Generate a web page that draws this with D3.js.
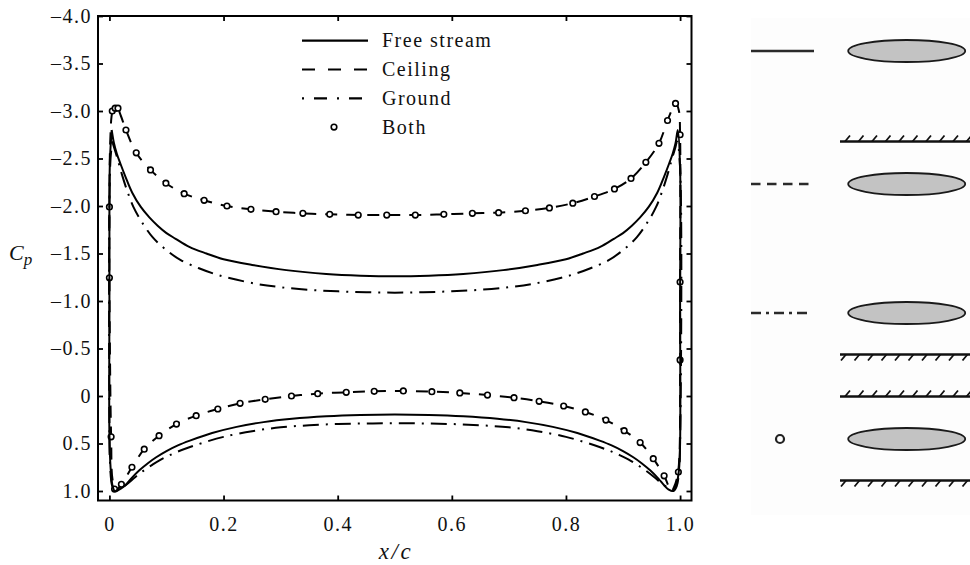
<!DOCTYPE html>
<html>
<head>
<meta charset="utf-8">
<script src="https://cdn.jsdelivr.net/npm/d3@7"></script>
<style>
  body { margin: 0; background: #fff; }
  svg { display: block; font-family: "Liberation Serif", "Times New Roman", serif; }
</style>
</head>
<body>
<svg id="chart" width="970" height="565"></svg>
<script>
// Pressure coefficient around the ellipse: each series runs upper surface (LE -> TE),
// down the trailing edge, lower surface back (TE -> LE) and up the leading edge.
const xTicks = [0, 0.2, 0.4, 0.6, 0.8, 1.0];
const yTicks = [-4.0, -3.5, -3.0, -2.5, -2.0, -1.5, -1.0, -0.5, 0, 0.5, 1.0];
const seriesNames = ["Free stream", "Ceiling", "Ground", "Both"];

const freeStream = [
  [0.004,-2.80],[0.008,-2.66],[0.013,-2.55],[0.019,-2.45],[0.028,-2.31],[0.040,-2.14],
  [0.055,-1.99],[0.070,-1.88],[0.085,-1.79],[0.100,-1.715],[0.116,-1.655],[0.140,-1.57],
  [0.170,-1.50],[0.200,-1.44],[0.250,-1.38],[0.310,-1.325],[0.380,-1.285],[0.440,-1.267],
  [0.500,-1.26],[0.560,-1.267],[0.620,-1.285],[0.690,-1.325],[0.750,-1.38],[0.800,-1.44],
  [0.830,-1.50],[0.860,-1.57],[0.884,-1.655],[0.900,-1.715],[0.915,-1.79],[0.930,-1.88],
  [0.945,-1.99],[0.960,-2.14],[0.972,-2.31],[0.981,-2.45],[0.987,-2.55],[0.992,-2.66],[0.996,-2.80],
  [1.000,-2.40],[1.000,-1.00],[1.000,0.50],[0.998,0.78],[0.994,0.92],[0.988,1.00],
  [0.980,0.985],[0.972,0.94],[0.962,0.87],[0.948,0.785],[0.932,0.705],[0.918,0.645],
  [0.900,0.58],[0.880,0.52],[0.859,0.47],[0.820,0.39],[0.777,0.325],[0.730,0.275],
  [0.680,0.24],[0.620,0.214],[0.560,0.20],[0.500,0.195],[0.440,0.20],[0.380,0.214],
  [0.320,0.24],[0.270,0.275],[0.223,0.325],[0.180,0.39],[0.141,0.47],[0.120,0.52],
  [0.100,0.58],[0.082,0.645],[0.068,0.705],[0.052,0.785],[0.038,0.87],[0.028,0.94],
  [0.020,0.975],[0.013,0.995],[0.009,1.00],
  [0.005,0.93],[0.002,0.75],[0.000,0.40],[0.000,-1.00],[0.000,-2.00],[0.001,-2.50],[0.004,-2.80]
];

const ceiling = [
  [0.003,-2.90],[0.008,-3.04],[0.014,-3.03],[0.020,-2.95],[0.029,-2.80],[0.047,-2.56],
  [0.072,-2.38],[0.099,-2.24],[0.131,-2.13],[0.166,-2.06],[0.206,-2.00],[0.248,-1.965],
  [0.292,-1.94],[0.339,-1.923],[0.386,-1.912],[0.436,-1.905],[0.486,-1.905],[0.536,-1.905],
  [0.586,-1.912],[0.636,-1.923],[0.682,-1.93],[0.729,-1.95],[0.771,-1.98],[0.812,-2.03],
  [0.850,-2.10],[0.885,-2.18],[0.914,-2.29],[0.940,-2.46],[0.963,-2.66],[0.978,-2.90],
  [0.988,-3.04],[0.993,-3.08],[0.998,-3.00],
  [1.000,-2.75],[1.000,-1.20],[1.000,-0.38],[0.999,0.60],[0.996,0.82],[0.990,0.95],[0.985,1.00],
  [0.972,0.84],[0.953,0.66],[0.930,0.49],[0.902,0.365],[0.870,0.253],[0.834,0.168],
  [0.796,0.105],[0.753,0.056],[0.709,0.018],[0.6625,-0.01],[0.614,-0.032],[0.565,-0.046],
  [0.515,-0.053],[0.464,-0.049],[0.415,-0.039],[0.365,-0.025],[0.319,0.000],[0.273,0.035],
  [0.229,0.077],[0.190,0.137],[0.152,0.207],[0.1175,0.295],[0.087,0.418],[0.061,0.56],
  [0.0395,0.75],[0.0216,0.926],[0.012,0.99],
  [0.006,0.90],[0.003,0.43],[0.000,-1.245],[0.000,-1.99],[0.001,-2.60],[0.003,-2.90]
];

const ground = [
  [0.005,-2.68],[0.009,-2.60],[0.015,-2.48],[0.022,-2.33],[0.030,-2.18],[0.042,-1.99],
  [0.057,-1.83],[0.076,-1.67],[0.099,-1.54],[0.125,-1.43],[0.157,-1.345],[0.182,-1.29],
  [0.208,-1.245],[0.258,-1.18],[0.300,-1.145],[0.350,-1.118],[0.400,-1.102],[0.450,-1.092],
  [0.500,-1.088],[0.550,-1.092],[0.600,-1.102],[0.650,-1.118],[0.700,-1.145],[0.742,-1.18],
  [0.792,-1.245],[0.818,-1.29],[0.843,-1.345],[0.875,-1.43],[0.901,-1.54],[0.924,-1.67],
  [0.943,-1.83],[0.958,-1.99],[0.970,-2.18],[0.978,-2.33],[0.985,-2.48],[0.991,-2.60],[0.995,-2.68],
  [1.000,-2.40],[1.000,0.50],[0.998,0.80],[0.994,0.95],[0.988,1.00],
  [0.982,0.98],[0.970,0.93],[0.955,0.855],[0.940,0.785],[0.925,0.725],[0.910,0.67],
  [0.895,0.625],[0.880,0.585],[0.860,0.54],[0.835,0.49],[0.800,0.43],[0.750,0.37],
  [0.700,0.33],[0.650,0.308],[0.600,0.295],[0.550,0.289],[0.500,0.287],[0.450,0.289],
  [0.400,0.295],[0.350,0.308],[0.300,0.33],[0.250,0.37],[0.200,0.43],[0.165,0.49],
  [0.140,0.54],[0.120,0.585],[0.105,0.625],[0.090,0.67],[0.075,0.725],[0.060,0.785],
  [0.045,0.855],[0.030,0.93],[0.018,0.98],[0.010,1.00],
  [0.005,0.95],[0.001,0.70],[0.000,0.30],[0.000,-2.00],[0.002,-2.50],[0.005,-2.68]
];

const both = [
  [0.005,-3.00],[0.010,-3.03],[0.015,-3.03],[0.029,-2.80],[0.047,-2.56],[0.072,-2.38],
  [0.099,-2.24],[0.131,-2.13],[0.166,-2.06],[0.206,-2.00],[0.248,-1.965],[0.292,-1.94],
  [0.339,-1.923],[0.386,-1.912],[0.436,-1.905],[0.486,-1.905],[0.536,-1.905],[0.586,-1.912],
  [0.636,-1.923],[0.682,-1.93],[0.729,-1.95],[0.771,-1.98],[0.812,-2.03],[0.850,-2.10],
  [0.885,-2.18],[0.914,-2.29],[0.940,-2.46],[0.963,-2.66],[0.978,-2.90],[0.992,-3.08],
  [1.000,-2.75],[1.000,-1.20],[1.000,-0.38],[0.997,0.80],
  [0.972,0.84],[0.953,0.66],[0.930,0.49],[0.902,0.365],[0.870,0.253],[0.834,0.168],
  [0.796,0.105],[0.753,0.056],[0.709,0.018],[0.6625,-0.01],[0.614,-0.032],[0.565,-0.046],
  [0.515,-0.053],[0.464,-0.049],[0.415,-0.039],[0.365,-0.025],[0.319,0.000],[0.273,0.035],
  [0.229,0.077],[0.190,0.137],[0.152,0.207],[0.1175,0.295],[0.087,0.418],[0.061,0.56],
  [0.0395,0.75],[0.021,0.93],[0.009,0.98],
  [0.003,0.43],[0.000,-1.245],[0.000,-1.99]
];

const svg = d3.select("#chart");
const font = 20;
const spacing = "1.5px";

// ---- plot frame and scales ----
const L = 98, R = 691.5, T = 16, B = 500.5;
const x = d3.scaleLinear().domain([-0.02, 1.02]).range([L, R]);
const y = d3.scaleLinear().domain([-4, 1.1]).range([T, B]);

const fmtY = v => v === 0 ? "0" : (v < 0 ? "\u2013" : "") + Math.abs(v).toFixed(1);
const fmtX = v => v === 0 ? "0" : v.toFixed(1);

function styleAxis(g) {
  g.select(".domain").remove();
  g.selectAll(".tick line").attr("stroke", "#000").attr("stroke-width", 1.8);
  g.selectAll(".tick text")
    .attr("font-family", "Liberation Serif, Times New Roman, serif")
    .attr("font-size", font).attr("fill", "#111").style("letter-spacing", spacing);
}

svg.append("g").attr("transform", `translate(0,${B})`)
  .call(d3.axisBottom(x).tickValues(xTicks).tickFormat(fmtX)
    .tickSizeInner(-5).tickSizeOuter(0).tickPadding(16))
  .call(styleAxis);
svg.append("g").attr("transform", `translate(0,${T})`)
  .call(d3.axisTop(x).tickValues(xTicks).tickFormat("")
    .tickSizeInner(-5).tickSizeOuter(0))
  .call(styleAxis);
svg.append("g").attr("transform", `translate(${L},0)`)
  .call(d3.axisLeft(y).tickValues(yTicks).tickFormat(fmtY)
    .tickSizeInner(-5).tickSizeOuter(0).tickPadding(6))
  .call(styleAxis);
svg.append("g").attr("transform", `translate(${R},0)`)
  .call(d3.axisRight(y).tickValues(yTicks).tickFormat("")
    .tickSizeInner(-5).tickSizeOuter(0))
  .call(styleAxis);

svg.append("rect")
  .attr("x", L).attr("y", T).attr("width", R - L).attr("height", B - T)
  .attr("fill", "none").attr("stroke", "#000").attr("stroke-width", 2);

// axis titles
const cp = svg.append("text").attr("x", 9).attr("y", 260)
  .attr("font-size", 22).attr("font-style", "italic").attr("fill", "#111");
cp.append("tspan").text("C");
cp.append("tspan").attr("font-size", 17).attr("dy", 5).text("p");

svg.append("text").attr("x", 396).attr("y", 559)
  .attr("text-anchor", "middle").attr("font-size", 23).attr("font-style", "italic")
  .style("letter-spacing", "2.5px").attr("fill", "#111").text("x/c");

// ---- curves ----
const line = d3.line().x(d => x(d[0])).y(d => y(d[1]))
  .curve(d3.curveCatmullRom.alpha(0.5));

svg.append("path").datum(ceiling).attr("d", line)
  .attr("fill", "none").attr("stroke", "#000").attr("stroke-width", 2)
  .attr("stroke-dasharray", "12,9");

svg.append("g").selectAll("circle").data(both).join("circle")
  .attr("cx", d => x(d[0])).attr("cy", d => y(d[1])).attr("r", 2.8)
  .attr("fill", "#fff").attr("stroke", "#000").attr("stroke-width", 1.6);

svg.append("path").datum(ground).attr("d", line)
  .attr("fill", "none").attr("stroke", "#000").attr("stroke-width", 2)
  .attr("stroke-dasharray", "16,7,2,7");

svg.append("path").datum(freeStream).attr("d", line)
  .attr("fill", "none").attr("stroke", "#000").attr("stroke-width", 2);

// ---- legend ----
const lg = svg.append("g");
seriesNames.forEach((name, i) => {
  const cy = 40.7 + i * 28.8;
  if (name === "Both") {
    lg.append("circle").attr("cx", 334).attr("cy", cy).attr("r", 2.8)
      .attr("fill", "#fff").attr("stroke", "#000").attr("stroke-width", 1.6);
  } else {
    lg.append("line").attr("x1", 302).attr("x2", 368).attr("y1", cy).attr("y2", cy)
      .attr("stroke", "#000").attr("stroke-width", 2.2)
      .attr("stroke-dasharray", name === "Ceiling" ? "13,13" : name === "Ground" ? "2,10,13,10" : null);
  }
  lg.append("text").attr("x", 382).attr("y", cy + 6.5)
    .attr("font-size", font).attr("fill", "#111").style("letter-spacing", spacing).text(name);
});

// ---- configuration sketches: ellipse between walls ----
const sk = svg.append("g");
sk.append("rect").attr("x", 751).attr("y", 18).attr("width", 219).attr("height", 497)
  .attr("fill", "#fdfdfd");

const sketchRows = [
  { name: "Free stream", walls: [] },
  { name: "Ceiling", walls: ["ceiling"] },
  { name: "Ground", walls: ["ground"] },
  { name: "Both", walls: ["ceiling", "ground"] }
];
const rowY = [51, 184, 313, 439];
const wallGap = { ceiling: -42.5, ground: 41.5 };
const ex = 906.7;

sketchRows.forEach((row, i) => {
  const cy = rowY[i];
  if (row.name === "Both") {
    sk.append("circle").attr("cx", 780).attr("cy", cy).attr("r", 4)
      .attr("fill", "#fff").attr("stroke", "#222").attr("stroke-width", 2.2);
  } else {
    sk.append("line").attr("x1", 751).attr("x2", row.name === "Free stream" ? 814 : row.name === "Ceiling" ? 809 : 812)
      .attr("y1", cy).attr("y2", cy).attr("stroke", "#2a2a2a").attr("stroke-width", 2.6)
      .attr("stroke-dasharray", row.name === "Ceiling" ? "9.5,6.5" : row.name === "Ground" ? "10,5,3,5" : null);
  }
  sk.append("ellipse").attr("cx", ex).attr("cy", cy).attr("rx", 58.5).attr("ry", 11)
    .attr("fill", "#c3c3c3").attr("stroke", "#1a1a1a").attr("stroke-width", 1.8);

  row.walls.forEach(w => {
    const wy = cy + wallGap[w];
    sk.append("line").attr("x1", 840).attr("x2", 972).attr("y1", wy).attr("y2", wy)
      .attr("stroke", "#111").attr("stroke-width", 2.4);
    const hatch = d3.range(845, 972, 13.5);
    sk.append("path")
      .attr("d", hatch.map(hx => w === "ceiling"
        ? `M${hx},${wy} L${hx + 5},${wy - 6}`
        : `M${hx + 1},${wy} L${hx - 4},${wy + 6}`).join(" "))
      .attr("stroke", "#111").attr("stroke-width", 1.8).attr("fill", "none");
  });
});
</script>
</body>
</html>
